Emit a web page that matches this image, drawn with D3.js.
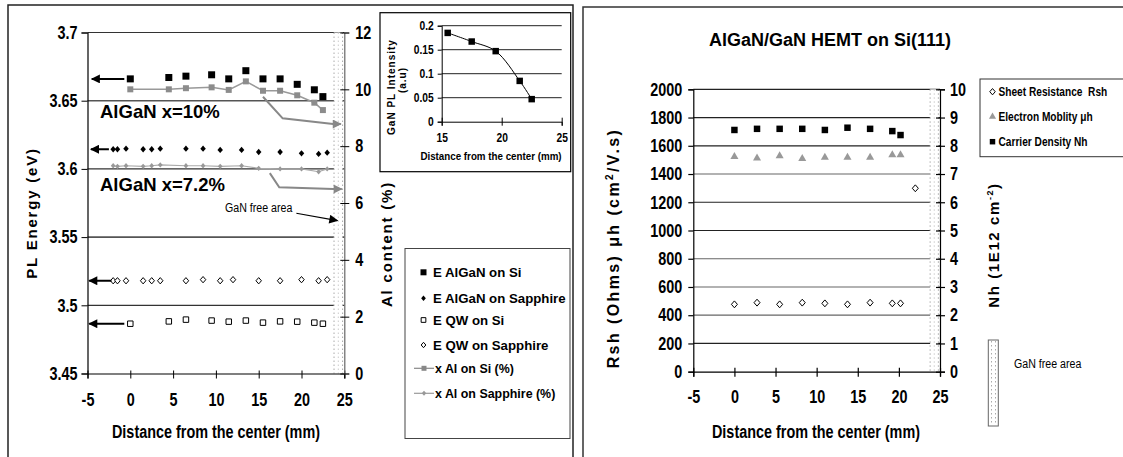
<!DOCTYPE html>
<html><head><meta charset="utf-8">
<script src="https://cdn.jsdelivr.net/npm/d3@7"></script>
<style>
body{margin:0;background:#fff;}
text{font-family:'Liberation Sans',Arial,sans-serif;}
.tk{font-weight:bold;}
</style></head>
<body><svg id="c" width="1123" height="457"></svg>
<script>
// ---------- data: left chart ----------
const siX = [0, 4.5, 6.5, 9.5, 11.5, 13.5, 15.5, 17.5, 19.5, 21.5, 22.5];
const eAlGaNSi = [3.666, 3.667, 3.668, 3.669, 3.666, 3.672, 3.666, 3.666, 3.662, 3.658, 3.653];
const xAlSi = [10.0, 10.0, 10.04, 10.07, 9.98, 10.28, 9.95, 9.95, 9.79, 9.53, 9.27];
const eQwSi = [3.4865, 3.4882, 3.4895, 3.4888, 3.4880, 3.4888, 3.4873, 3.4882, 3.4880, 3.4873, 3.4865];
const sapX = [-2, -1.5, -0.5, 1.5, 2.5, 3.5, 6.5, 8.5, 10.5, 13, 15, 17.5, 20, 22, 23];
const eAlGaNSap = [3.6144, 3.6144, 3.6148, 3.6144, 3.6144, 3.6148, 3.6148, 3.6148, 3.6139, 3.6139, 3.6124, 3.6124, 3.6114, 3.611, 3.6119];
const xAlSap = [7.31, 7.29, 7.31, 7.29, 7.31, 7.34, 7.31, 7.31, 7.29, 7.31, 7.22, 7.20, 7.20, 7.10, 7.20];
const qwSapX = [-2, -1.5, -0.5, 1.5, 2.5, 3.5, 6.5, 8.5, 10.5, 12, 15, 17.5, 20, 22, 23];
const eQwSap = [3.518, 3.518, 3.518, 3.518, 3.518, 3.518, 3.518, 3.5188, 3.518, 3.5188, 3.518, 3.518, 3.5188, 3.518, 3.5188];
const leftYTicks = ["3.45", "3.5", "3.55", "3.6", "3.65", "3.7"];
const rightYTicksL = [0, 2, 4, 6, 8, 10, 12];
const xTicks = [-5, 0, 5, 10, 15, 20, 25];
const leftLegend = ["E AlGaN on Si", "E AlGaN on Sapphire", "E QW on Si", "E QW on Sapphire", "x Al on Si (%)", "x Al on Sapphire (%)"];
// inset
const insetX = [15.5, 17.5, 19.5, 21.5, 22.5];
const insetY = [0.185, 0.167, 0.147, 0.085, 0.047];
const insetYTicks = ["0", "0.05", "0.1", "0.15", "0.2"];
const insetXTicks = [15, 20, 25];
// ---------- data: right chart ----------
const hX = [0, 2.75, 5.5, 8.25, 11, 13.75, 16.5, 19.2, 20.2];
const rshX = [0, 2.75, 5.5, 8.25, 11, 13.75, 16.5, 19.2, 20.2, 22];
const rsh = [477, 489, 477, 489, 484, 477, 489, 484, 484, 1299];
const mobility = [1523, 1513, 1528, 1509, 1518, 1518, 1518, 1535, 1535];
const nh = [8.56, 8.6, 8.6, 8.6, 8.56, 8.64, 8.6, 8.52, 8.38];
const rLeftTicks = [0, 200, 400, 600, 800, 1000, 1200, 1400, 1600, 1800, 2000];
const rRightTicks = [0, 1, 2, 3, 4, 5, 6, 7, 8, 9, 10];
const rightLegend = ["Sheet Resistance  Rsh", "Electron Moblity μh", "Carrier Density Nh"];
const gapRange = [23.8, 24.8];

const svg = d3.select("#c");
svg.append("rect").attr("width",1123).attr("height",457).attr("fill","#fff");

const diamond = {draw(ctx, size){ const r=Math.sqrt(size)/2; ctx.moveTo(0,-r*1.15); ctx.lineTo(r,0); ctx.lineTo(0,r*1.15); ctx.lineTo(-r,0); ctx.closePath(); }};
function sym(type, size){ return d3.symbol().type(type).size(size)(); }
// emulate a condensed face by compressing measured text width
function narrow(sel, k){
  sel.each(function(){ const w=this.getComputedTextLength(); d3.select(this).attr("textLength", w*(k||0.82)).attr("lengthAdjust","spacingAndGlyphs"); });
  return sel;
}

const defs = svg.append("defs");
function marker(id, color, w, h){
  defs.append("marker").attr("id",id).attr("viewBox","0 0 10 10").attr("refX",9).attr("refY",5)
    .attr("markerUnits","userSpaceOnUse").attr("markerWidth",w).attr("markerHeight",h).attr("orient","auto")
    .append("path").attr("d","M0,0L10,5L0,10Z").attr("fill",color);
}
marker("ab","#000",11,9); marker("ag","#888",11,9);

svg.append("rect").attr("x",8).attr("y",5).attr("width",565).attr("height",470).attr("fill","none").attr("stroke","#222").attr("stroke-width",1.5);
svg.append("rect").attr("x",583).attr("y",7).attr("width",560).attr("height",470).attr("fill","none").attr("stroke","#333").attr("stroke-width",1.5);

// =============== LEFT CHART ===============
const x1 = d3.scaleLinear().domain([-5,25]).range([87.5,344.3]);
const yE = d3.scaleLinear().domain([3.45,3.7]).range([373.5,32.5]);
const yA = d3.scaleLinear().domain([0,12]).range([373.5,32.5]);
const L = svg.append("g");

L.selectAll(".g").data(leftYTicks.slice(1)).join("line")
  .attr("x1",x1(-5)).attr("x2",x1(25)).attr("y1",d=>yE(+d)).attr("y2",d=>yE(+d))
  .attr("stroke",(d,i)=> i%2? "#555":"#333").attr("stroke-width",(d,i)=> i%2?1.6:1.2);
function gap(g, xs, yTop, yBot){
  g.append("rect").attr("x",xs(gapRange[0])).attr("y",yTop).attr("width",xs(gapRange[1])-xs(gapRange[0])).attr("height",yBot-yTop).attr("fill","#fff");
  [gapRange[0], (gapRange[0]+gapRange[1])/2, gapRange[1]].forEach((v,i)=>{
    g.append("line").attr("x1",xs(v)).attr("x2",xs(v)).attr("y1",yTop).attr("y2",yBot)
      .attr("stroke",i==1?"#ccc":"#aaa").attr("stroke-dasharray","1.5,2.5").attr("stroke-width",1);
  });
}
gap(L, x1, yE(3.7), yE(3.45));

const axL = d3.axisLeft(yE).tickValues(leftYTicks.map(Number)).tickFormat((d,i)=>leftYTicks[i]).tickSize(6).tickPadding(4);
const gL = L.append("g").attr("transform",`translate(${x1(-5)},0)`).call(axL);
const axB = d3.axisBottom(x1).tickValues(xTicks).tickFormat(d=>String(d)).tickSize(5).tickPadding(11);
const gB = L.append("g").attr("transform",`translate(0,${yE(3.45)})`).call(axB);
const axR = d3.axisRight(yA).tickValues(rightYTicksL).tickFormat(d=>String(d)).tickSize(5).tickPadding(6);
const gR = L.append("g").attr("transform",`translate(${x1(25)},0)`).call(axR);
[gL,gB,gR].forEach(g=>{ g.selectAll("path").attr("stroke","#000").attr("stroke-width",1.2);
  g.selectAll("line").attr("stroke","#000");
  g.selectAll("text").attr("class","tk").attr("font-size",18).attr("fill","#000"); narrow(g.selectAll("text"),0.8); });
gR.select("path").attr("stroke","#666");
gB.selectAll(".tick line").attr("y1",-3);
gR.selectAll(".tick line").attr("x1",-4);
gB.selectAll("text").attr("dy","0.9em");

const lineA = d3.line().x(d=>x1(d[0])).y(d=>yA(d[1]));
L.append("path").attr("d",lineA(siX.map((x,i)=>[x,xAlSi[i]]))).attr("fill","none").attr("stroke","#999").attr("stroke-width",1.5);
L.append("path").attr("d",lineA(sapX.map((x,i)=>[x,xAlSap[i]]))).attr("fill","none").attr("stroke","#aaa").attr("stroke-width",1.2);
L.selectAll(".ps").data(siX).join("path").attr("transform",(d,i)=>`translate(${x1(d)},${yA(xAlSi[i])})`)
  .attr("d",sym(d3.symbolSquare,36)).attr("fill","#8c8c8c");
L.selectAll(".pd").data(sapX).join("path").attr("transform",(d,i)=>`translate(${x1(d)},${yA(xAlSap[i])})`)
  .attr("d",sym(diamond,22)).attr("fill","#999");

L.selectAll(".es").data(siX).join("path").attr("transform",(d,i)=>`translate(${x1(d)},${yE(eAlGaNSi[i])})`)
  .attr("d",sym(d3.symbolSquare,49)).attr("fill","#000");
L.selectAll(".ed").data(sapX).join("path").attr("transform",(d,i)=>`translate(${x1(d)},${yE(eAlGaNSap[i])})`)
  .attr("d",sym(diamond,30)).attr("fill","#000");
L.selectAll(".qs").data(siX).join("path").attr("transform",(d,i)=>`translate(${x1(d)},${yE(eQwSi[i])})`)
  .attr("d",sym(d3.symbolSquare,30)).attr("fill","#fff").attr("stroke","#000").attr("stroke-width",1);
L.selectAll(".qd").data(qwSapX).join("path").attr("transform",(d,i)=>`translate(${x1(d)},${yE(eQwSap[i])})`)
  .attr("d",sym(diamond,30)).attr("fill","#fff").attr("stroke","#000").attr("stroke-width",1);

const blackArrows = [[-0.7,3.666,-4.5],[-2.5,3.6144,-4.6],[-2.2,3.518,-4.8],[-0.7,3.4865,-4.8]];
blackArrows.forEach(a=>{
  L.append("line").attr("x1",x1(a[0])).attr("x2",x1(a[2])).attr("y1",yE(a[1])).attr("y2",yE(a[1]))
   .attr("stroke","#000").attr("stroke-width",2).attr("marker-end","url(#ab)");
});
const grayArrows = [[[15.5,9.74],[17.8,8.98],[23.7,8.78],[24.6,8.78]], [[16.3,7.05],[17.4,6.55],[23.7,6.49],[24.7,6.49]]];
grayArrows.forEach(p=>{
  L.append("path").attr("d",lineA(p)).attr("fill","none").attr("stroke","#888").attr("stroke-width",2).attr("marker-end","url(#ag)");
});
L.append("line").attr("x1",x1(19.4)).attr("y1",yA(5.64)).attr("x2",x1(24.2)).attr("y2",yA(5.38))
  .attr("stroke","#000").attr("stroke-width",1.2).attr("marker-end","url(#ab)");
narrow(L.append("text").attr("x",x1(15)).attr("y",yA(5.7)).attr("text-anchor","middle").attr("font-size",12.5).text("GaN free area"),0.85);
L.append("text").attr("x",100).attr("y",yE(3.637)).attr("font-size",18.5).attr("font-weight","bold").text("AlGaN x=10%");
L.append("text").attr("x",100).attr("y",yE(3.5835)).attr("font-size",18.5).attr("font-weight","bold").text("AlGaN x=7.2%");

L.append("text").attr("transform",`translate(37,213) rotate(-90)`).attr("text-anchor","middle")
  .attr("font-size",15).attr("font-weight","bold").attr("letter-spacing",1.8).text("PL Energy (eV)");
L.append("text").attr("transform",`translate(392,244) rotate(-90)`).attr("text-anchor","middle")
  .attr("font-size",15).attr("font-weight","bold").attr("letter-spacing",1.8).text("Al content (%)");
narrow(L.append("text").attr("class","tk").attr("x",216).attr("y",438).attr("text-anchor","middle")
  .attr("font-size",18).text("Distance from the center (mm)"),0.8);

// left legend
const lg = L.append("g");
lg.append("rect").attr("x",405).attr("y",248.5).attr("width",165).attr("height",190).attr("fill","#fff").attr("stroke","#444").attr("stroke-width",1);
const lgY = [272.3, 298.3, 320, 345, 368.3, 393.3];
const lgSyms = [
  g=>g.append("path").attr("d",sym(d3.symbolSquare,36)).attr("fill","#000"),
  g=>g.append("path").attr("d",sym(diamond,22)).attr("fill","#000"),
  g=>g.append("path").attr("d",sym(d3.symbolSquare,22)).attr("fill","#fff").attr("stroke","#000"),
  g=>g.append("path").attr("d",sym(diamond,22)).attr("fill","#fff").attr("stroke","#000"),
  g=>{g.append("line").attr("x1",-10).attr("x2",10).attr("stroke","#888").attr("stroke-width",1.2); g.append("path").attr("d",sym(d3.symbolSquare,25)).attr("fill","#888");},
  g=>{g.append("line").attr("x1",-10).attr("x2",10).attr("stroke","#999").attr("stroke-width",1.2); g.append("path").attr("d",sym(diamond,20)).attr("fill","#999");}
];
leftLegend.forEach((t,i)=>{
  const g = lg.append("g").attr("transform",`translate(${i<4?423.5:424},${lgY[i]})`);
  lgSyms[i](g);
  narrow(lg.append("text").attr("x", i<4 ? 433 : 435).attr("y",lgY[i]).attr("dy","0.35em").attr("font-size",13.5).attr("font-weight","bold").text(t), i<4 ? 0.98 : 0.92);
});

// inset
const I = svg.append("g");
I.append("rect").attr("x",380).attr("y",12.7).attr("width",190.7).attr("height",159).attr("fill","#fff").attr("stroke","#000").attr("stroke-width",1.2);
const xi = d3.scaleLinear().domain([15,25]).range([441.7,561.7]);
const yi = d3.scaleLinear().domain([0,0.2]).range([121.7,25.7]);
I.selectAll(".ig").data(insetYTicks.slice(1)).join("line").attr("x1",xi(15)).attr("x2",xi(25))
  .attr("y1",d=>yi(+d)).attr("y2",d=>yi(+d)).attr("stroke","#222").attr("stroke-width",1);
const giL = I.append("g").attr("transform",`translate(${xi(15)},0)`).call(d3.axisLeft(yi).tickValues(insetYTicks.map(Number)).tickFormat((d,i)=>insetYTicks[i]).tickSize(4).tickPadding(4));
const giB = I.append("g").attr("transform",`translate(0,${yi(0)})`).call(d3.axisBottom(xi).tickValues(insetXTicks).tickSize(4).tickPadding(7));
[giL,giB].forEach(g=>{ g.selectAll("path,line").attr("stroke","#000");
  g.selectAll("text").attr("class","tk").attr("font-size",12.5).attr("fill","#000"); narrow(g.selectAll("text"),0.82); });
giB.selectAll(".tick line").attr("y1",-4);
I.append("path").attr("d",d3.line().curve(d3.curveCatmullRom).x((d,i)=>xi(d)).y((d,i)=>yi(insetY[i]))(insetX))
  .attr("fill","none").attr("stroke","#000").attr("stroke-width",1);
I.selectAll(".ip").data(insetX).join("path").attr("transform",(d,i)=>`translate(${xi(d)},${yi(insetY[i])})`)
  .attr("d",sym(d3.symbolSquare,42)).attr("fill","#000");
narrow(I.append("text").attr("class","tk").attr("x",491).attr("y",160).attr("text-anchor","middle").attr("font-size",11.5).text("Distance from the center (mm)"),0.85);
I.append("text").attr("transform","translate(395,87) rotate(-90)").attr("text-anchor","middle").attr("font-size",10).attr("font-weight","bold").attr("letter-spacing",1).text("GaN PL Intensity");
I.append("text").attr("transform","translate(406,80) rotate(-90)").attr("text-anchor","middle").attr("font-size",10).attr("font-weight","bold").attr("letter-spacing",1).text("(a.u)");

// =============== RIGHT CHART ===============
const x2 = d3.scaleLinear().domain([-5,25]).range([693.3,940]);
const yL = d3.scaleLinear().domain([0,2000]).range([371.7,89.3]);
const yR = d3.scaleLinear().domain([0,10]).range([371.7,89.3]);
const R = svg.append("g");
R.selectAll(".rg").data(rLeftTicks.slice(1)).join("line").attr("x1",x2(-5)).attr("x2",x2(25))
  .attr("y1",d=>yL(d)).attr("y2",d=>yL(d)).attr("stroke",(d,i)=>[1,2,3,6].includes(i)?"#666":"#222").attr("stroke-width",1.2);
gap(R, x2, yL(2000), yL(0));
const rL = R.append("g").attr("transform",`translate(${x2(-5)},0)`).call(d3.axisLeft(yL).tickValues(rLeftTicks).tickFormat(d=>String(d)).tickSize(5).tickPadding(6));
const rB = R.append("g").attr("transform",`translate(0,${yL(0)})`).call(d3.axisBottom(x2).tickValues(xTicks).tickFormat(d=>String(d)).tickSize(5).tickPadding(11));
const rR = R.append("g").attr("transform",`translate(${x2(25)},0)`).call(d3.axisRight(yR).tickValues(rRightTicks).tickFormat(d=>String(d)).tickSize(5).tickPadding(5));
[rL,rB,rR].forEach(g=>{ g.selectAll("path,line").attr("stroke","#000").attr("stroke-width",1.2);
  g.selectAll("text").attr("class","tk").attr("font-size",18).attr("fill","#000"); narrow(g.selectAll("text"),0.8); });
rB.selectAll(".tick line").attr("y1",-4);
rR.selectAll(".tick line").attr("x1",-4);
rB.selectAll("text").attr("dy","0.85em");

R.selectAll(".rm").data(hX).join("path").attr("transform",(d,i)=>`translate(${x2(d)},${yL(mobility[i])})`)
  .attr("d",sym(d3.symbolTriangle,28)).attr("fill","#999");
R.selectAll(".rn").data(hX).join("path").attr("transform",(d,i)=>`translate(${x2(d)},${yR(nh[i])})`)
  .attr("d",sym(d3.symbolSquare,42)).attr("fill","#000");
R.selectAll(".rr").data(rshX).join("path").attr("transform",(d,i)=>`translate(${x2(d)},${yL(rsh[i])})`)
  .attr("d",sym(diamond,36)).attr("fill","#fff").attr("stroke","#000").attr("stroke-width",1);

R.append("text").attr("x",830).attr("y",46).attr("text-anchor","middle").attr("font-size",18).attr("font-weight","bold").text("AlGaN/GaN HEMT on Si(111)");
narrow(R.append("text").attr("class","tk").attr("x",816).attr("y",438).attr("text-anchor","middle").attr("font-size",18).text("Distance from the center (mm)"),0.8);
const t1 = R.append("text").attr("transform","translate(619,248) rotate(-90)").attr("text-anchor","middle").attr("font-size",16).attr("font-weight","bold").attr("letter-spacing",2.4);
t1.append("tspan").text("Rsh (Ohms) μh (cm");
t1.append("tspan").attr("font-size",10).attr("dy",-6).text("2");
t1.append("tspan").attr("dy",6).text("/V.s)");
const t2 = R.append("text").attr("transform","translate(999,245) rotate(-90)").attr("text-anchor","middle").attr("font-size",15).attr("font-weight","bold").attr("letter-spacing",1.6);
t2.append("tspan").text("Nh (1E12 cm");
t2.append("tspan").attr("font-size",9).attr("dy",-6).text("-2");
t2.append("tspan").attr("dy",6).text(")");

R.append("rect").attr("x",980).attr("y",79).attr("width",170).attr("height",77.7).attr("fill","#fff").attr("stroke","#333").attr("stroke-width",1);
const rlY = [91.7, 116.7, 141.7];
const rlSym = [
  g=>g.append("path").attr("d",sym(diamond,30)).attr("fill","#fff").attr("stroke","#000"),
  g=>g.append("path").attr("d",sym(d3.symbolTriangle,22)).attr("fill","#999"),
  g=>g.append("path").attr("d",sym(d3.symbolSquare,30)).attr("fill","#000")
];
rightLegend.forEach((t,i)=>{
  const g = R.append("g").attr("transform",`translate(992.5,${rlY[i]})`);
  rlSym[i](g);
  narrow(R.append("text").attr("x",998.5).attr("y",rlY[i]).attr("dy","0.35em").attr("font-size",13).attr("font-weight","bold")
    .style("white-space","pre").text(t),0.78);
});
R.append("rect").attr("x",988.3).attr("y",340).attr("width",10).attr("height",86).attr("fill","#fff").attr("stroke","#666").attr("stroke-width",1);
R.append("line").attr("x1",991.5).attr("x2",991.5).attr("y1",341).attr("y2",425).attr("stroke","#aaa").attr("stroke-dasharray","1.5,2.5");
R.append("line").attr("x1",995.5).attr("x2",995.5).attr("y1",341).attr("y2",425).attr("stroke","#aaa").attr("stroke-dasharray","1.5,2.5");
narrow(R.append("text").attr("x",1014).attr("y",363.5).attr("dy","0.35em").attr("font-size",12.5).text("GaN free area"),0.85);
</script></body></html>
